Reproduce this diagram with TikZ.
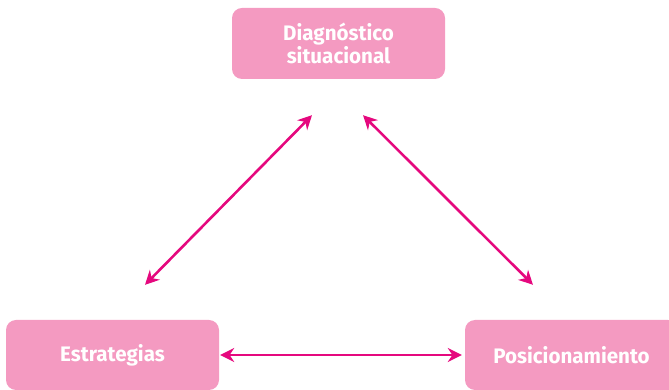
\documentclass[tikz,border=0pt]{standalone}
\usepackage{fontspec}
\setmainfont{Fira Sans}[FakeStretch=0.98]
\usepackage{tikz}
\usepackage{xcolor}
\usetikzlibrary{arrows.meta,calc,positioning}
\definecolor{boxpink}{HTML}{F49AC1}
\definecolor{arrowpink}{HTML}{E5087E}
\tikzset{
  stage/.style={fill=boxpink, rounded corners=10pt, minimum width=213pt, minimum height=71pt,
    text=white, font=\fontsize{21}{23}\selectfont\bfseries, align=center, inner sep=0pt},
  link/.style={{Stealth[length=14pt,width=14pt]}-{Stealth[length=14pt,width=14pt]}, line width=2.6pt, arrowpink},
}
\begin{document}
\begin{tikzpicture}[x=1pt,y=1pt]
  \useasboundingbox (0,0) rectangle (669,390);

  % stages
  \node[stage] (diag) at (338.5,346.5) {Diagnóstico\\situacional};
  \node[stage, minimum height=70pt] (estr) at (112.5,35) {Estrategias};
  \node[stage, minimum height=70pt] (pos) at (571.5,35) {Posicionamiento};

  % arrows
  \draw[link] ($(estr.north)+(32.5,35)$) -- ($(diag.south)+(-26.5,-36)$);
  \draw[link] ($(diag.south)+(24.5,-36)$) -- ($(pos.north)+(-38.5,35)$);
  \draw[link] ($(estr.east)+(1,0)$) -- ($(pos.west)+(-3,0)$);

\end{tikzpicture}
\end{document}
